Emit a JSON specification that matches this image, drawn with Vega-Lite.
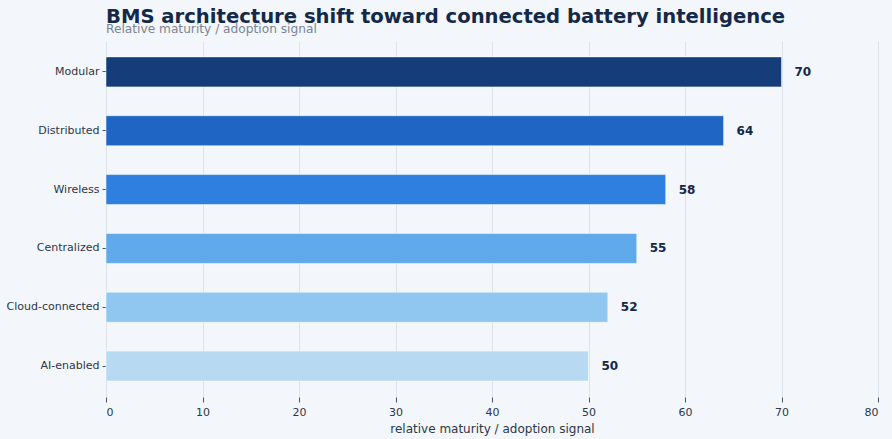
{
  "$schema": "https://vega.github.io/schema/vega-lite/v6.json",
  "width": 772,
  "height": 356,
  "autosize": {"type": "none"},
  "padding": {"left": 106, "top": 41, "right": 14, "bottom": 42},
  "background": "#f3f6fa",
  "title": {
    "text": "BMS architecture shift toward connected battery intelligence",
    "subtitle": "Relative maturity / adoption signal",
    "anchor": "start",
    "frame": "group",
    "font": "DejaVu Sans",
    "fontSize": 19.6,
    "fontWeight": "bold",
    "color": "#14294a",
    "subtitleFont": "DejaVu Sans",
    "subtitleFontSize": 12.2,
    "subtitleColor": "#7a8594",
    "subtitlePadding": -5,
    "offset": 5
  },
  "config": {
    "view": {"stroke": null},
    "font": "DejaVu Sans"
  },
  "data": {
    "values": [
      {"architecture": "Modular", "signal": 70},
      {"architecture": "Distributed", "signal": 64},
      {"architecture": "Wireless", "signal": 58},
      {"architecture": "Centralized", "signal": 55},
      {"architecture": "Cloud-connected", "signal": 52},
      {"architecture": "AI-enabled", "signal": 50}
    ]
  },
  "encoding": {
    "y": {
      "field": "architecture",
      "type": "nominal",
      "sort": null,
      "title": null,
      "scale": {"paddingInner": 0.49, "paddingOuter": 0.27},
      "axis": {
        "domain": false,
        "ticks": true,
        "tickColor": "#4a5568",
        "tickSize": 4,
        "labelFontSize": 11,
        "labelColor": "#2d3748",
        "labelPadding": 3,
        "grid": false
      }
    },
    "x": {
      "field": "signal",
      "type": "quantitative",
      "title": "relative maturity / adoption signal",
      "scale": {"domain": [0, 80], "nice": false},
      "axis": {
        "values": [0, 10, 20, 30, 40, 50, 60, 70, 80],
        "domain": false,
        "ticks": true,
        "tickColor": "#4a5568",
        "tickSize": 5,
        "labelFontSize": 11,
        "labelColor": "#2d3748",
        "labelPadding": 4,
        "titleFontSize": 12,
        "titleFontWeight": "normal",
        "titleColor": "#2d3748",
        "titlePadding": 6,
        "grid": true,
        "gridColor": "#dde3ea"
      }
    }
  },
  "layer": [
    {
      "mark": {"type": "bar", "strokeWidth": 1, "strokeOpacity": 0.5},
      "encoding": {
        "color": {
          "field": "architecture",
          "type": "nominal",
          "sort": null,
          "legend": null,
          "scale": {
            "domain": ["Modular", "Distributed", "Wireless", "Centralized", "Cloud-connected", "AI-enabled"],
            "range": ["#153d7a", "#1f66c4", "#2f7fe0", "#60aaeb", "#8fc7f0", "#b7d9f2"]
          }
        },
        "stroke": {"value": "#ffffff"}
      }
    },
    {
      "mark": {
        "type": "text",
        "align": "left",
        "baseline": "middle",
        "dx": 13,
        "fontSize": 12,
        "fontWeight": "bold",
        "color": "#14294a"
      },
      "encoding": {
        "text": {"field": "signal", "type": "quantitative"}
      }
    }
  ]
}
